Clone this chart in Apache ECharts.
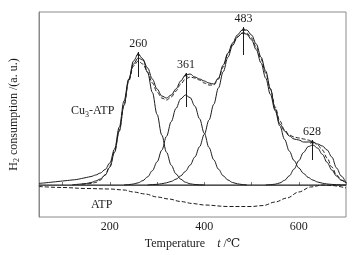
<!DOCTYPE html>
<html>
<head>
<meta charset="utf-8">
<script src="https://cdn.jsdelivr.net/npm/echarts@6/dist/echarts.min.js"></script>
<style>
  html, body { margin: 0; padding: 0; background: #fff; }
  #chart { width: 358px; height: 255px; }
</style>
</head>
<body>
<div id="chart"></div>
<script>
// TPR of Cu3-ATP and ATP, temperature in degC, intensity in arbitrary units
const T_TICKS = [100, 200, 300, 400, 500, 600, 700];
const T_LABELS = [200, 400, 600];

const CU3_ATP = [[50,1.5],[60,2],[70,2.5],[80,3],[90,3.5],[100,4],[110,4.5],[120,5],[130,5.5],[140,6.5],[150,7.5],[160,8.5],[170,10],[180,12],[190,15.5],[200,22],[210,36],[220,58],[230,84],[240,106],[250,121],[260,127],[270,125],[280,117],[290,106],[300,96],[310,89],[320,87],[330,90],[340,96],[350,104],[360,110],[370,111],[380,108],[390,106],[400,104],[410,102],[420,101],[430,107],[440,120],[450,132],[460,142],[470,150],[480,155],[490,155],[500,150],[510,141],[520,128],[530,114],[540,96],[550,76],[560,61],[570,54],[580,49],[590,46],[600,45],[610,43],[620,43],[630,43],[640,41],[650,39],[660,35],[670,28],[680,17],[690,9],[700,2]];

const FIT = [[140,0.8],[150,1],[160,1.5],[170,2.5],[180,5],[190,10],[200,19],[210,34],[220,55],[230,80],[240,104],[250,119],[260,124],[270,121],[280,113],[290,102],[300,93],[310,87],[320,85],[330,88],[340,94],[350,101],[360,106],[370,108],[380,107],[390,105],[400,102],[410,100],[420,100],[430,106],[440,118],[450,131],[460,141],[470,148],[480,152],[490,152],[500,147],[510,138],[520,126],[530,112],[540,96],[550,78],[560,64],[570,55],[580,50],[590,48],[600,47],[610,46],[620,45],[630,43],[640,40],[650,35],[660,27],[670,18],[680,10],[690,5],[700,2]];

const PEAK_260 = [[120,0],[130,0.6],[140,1],[150,1.5],[160,2.5],[170,4],[180,6],[190,10],[200,17.7],[210,32.7],[220,53.8],[230,79.5],[240,104.9],[250,123.9],[260,131],[270,126],[280,112.3],[290,92.6],[300,70.6],[310,49.9],[320,32.7],[330,19.8],[340,11.1],[350,5.8],[360,2.8],[370,1.2],[380,0.5],[390,0.2],[400,0]];
const PEAK_361 = [[230,0],[240,0.4],[250,1],[260,2.2],[270,4.4],[280,8.2],[290,14.3],[300,23.1],[310,34.8],[320,48.7],[330,63.4],[340,76.6],[350,86.1],[360,90],[370,87.4],[380,78.9],[390,66.2],[400,51.6],[410,37.4],[420,25.2],[430,15.8],[440,9.2],[450,5],[460,2.5],[470,1.2],[480,0.5],[490,0]];
const PEAK_483 = [[280,0],[290,0.4],[300,0.7],[310,1.3],[320,2.2],[330,3.6],[340,5.8],[350,9.1],[360,13.6],[370,19.9],[380,28],[390,38.3],[400,50.7],[410,65],[420,80.7],[430,97.1],[440,113.2],[450,127.8],[460,139.7],[470,147.9],[480,151.8],[490,150.8],[500,145.2],[510,135.3],[520,122.2],[530,106.9],[540,90.5],[550,74.3],[560,59],[570,45.5],[580,33.9],[590,24.5],[600,17.1],[610,11.6],[620,7.6],[630,4.9],[640,3],[650,1.8],[660,1],[670,0.6],[680,0.3],[690,0.1],[700,0]];
const PEAK_628 = [[530,0],[540,0.3],[550,0.8],[560,2.1],[570,4.7],[580,9.2],[590,15.9],[600,24.3],[610,32.5],[620,38.4],[630,40],[640,36.9],[650,30.6],[660,22.6],[670,15],[680,8.9],[690,4.7],[700,2.2]];

const ATP = [[50,-1.5],[100,-2.5],[150,-3.5],[200,-4],[230,-5],[250,-7],[275,-9],[300,-12],[325,-14],[350,-16.5],[375,-18.5],[400,-20],[450,-21.5],[500,-21.5],[525,-20.5],[550,-17],[575,-13],[600,-7],[625,-2],[650,0],[670,-0.5],[700,-3]];
const BASELINE = [[50,0],[700,0]];

const PEAKS = [260, 361, 483, 628];
const PEAK_TOP = [133, 112, 158, 45];
const PEAK_BOTTOM = [108, 78, 130, 25];

const INK = '#1c1c1c';
const FONT = '"Liberation Serif", "DejaVu Serif", serif';

const chart = echarts.init(document.getElementById('chart'));

function curve(name, data, dashed) {
  return {
    name, type: 'line', data,
    smooth: 0.35, smoothMonotone: 'x',
    showSymbol: false, silent: true,
    lineStyle: { color: INK, width: 1, type: dashed ? [4, 2] : 'solid' },
    z: dashed ? 4 : 3,
  };
}

const peakMarks = PEAKS.map((t, i) => [
  { coord: [t, PEAK_BOTTOM[i]] },
  { coord: [t, PEAK_TOP[i]], label: { formatter: String(t) } },
]);

chart.setOption({
  animation: false,
  backgroundColor: '#fff',
  textStyle: { fontFamily: FONT },
  grid: { left: 35, right: 12, top: 12, bottom: 38, show: true, borderColor: '#8a8a8a', borderWidth: 1 },
  xAxis: {
    type: 'value', min: 50, max: 700,
    name: 'Temperature    {i|t} /℃',
    nameLocation: 'middle', nameGap: 19,
    nameTextStyle: { color: INK, fontSize: 12, fontFamily: FONT,
      rich: { i: { fontStyle: 'italic', fontSize: 12, fontFamily: FONT, color: INK } } },
    axisLine: { lineStyle: { color: '#8a8a8a' } },
    axisTick: { inside: true, length: 3, customValues: T_TICKS, lineStyle: { color: '#777' } },
    axisLabel: { customValues: T_LABELS, color: INK, fontSize: 12, fontFamily: FONT, margin: 4 },
    splitLine: { show: false },
  },
  yAxis: {
    type: 'value', min: -32, max: 173,
    name: '{n|H}{s|2}{n| consumption /(a. u.)}',
    nameLocation: 'middle', nameGap: 18, nameRotate: 90,
    nameTextStyle: { color: INK, fontFamily: FONT,
      rich: {
        n: { fontSize: 12, fontFamily: FONT, color: INK },
        s: { fontSize: 8, fontFamily: FONT, color: INK, padding: [6, 0, 0, 0] },
      } },
    axisLine: { show: true, lineStyle: { color: '#8a8a8a' } },
    axisTick: { show: false },
    axisLabel: { show: false },
    splitLine: { show: false },
  },
  series: [
    curve('baseline', BASELINE, false),
    curve('Cu3-ATP', CU3_ATP, false),
    curve('fit', FIT, true),
    curve('peak 260', PEAK_260, false),
    curve('peak 361', PEAK_361, false),
    curve('peak 483', PEAK_483, false),
    curve('peak 628', PEAK_628, false),
    Object.assign(curve('ATP', ATP, true), {
      markLine: {
        silent: true, animation: false,
        symbol: ['none', 'arrow'], symbolSize: [3, 4],
        lineStyle: { color: INK, width: 1, type: 'solid' },
        label: { show: true, position: 'end', distance: 2, color: INK, fontSize: 12, fontFamily: FONT },
        data: peakMarks,
      },
    }),
  ],
  graphic: [
    { type: 'text', left: 71, top: 105, silent: true,
      style: { text: 'Cu{s|3}-ATP', fill: INK, font: '12px ' + FONT,
        rich: { s: { fontSize: 8, fontFamily: FONT, fill: INK, padding: [7, 0, 0, 0] } } } },
    { type: 'text', left: 91, top: 199, silent: true,
      style: { text: 'ATP', fill: INK, font: '12px ' + FONT } },
  ],
});
</script>
</body>
</html>
